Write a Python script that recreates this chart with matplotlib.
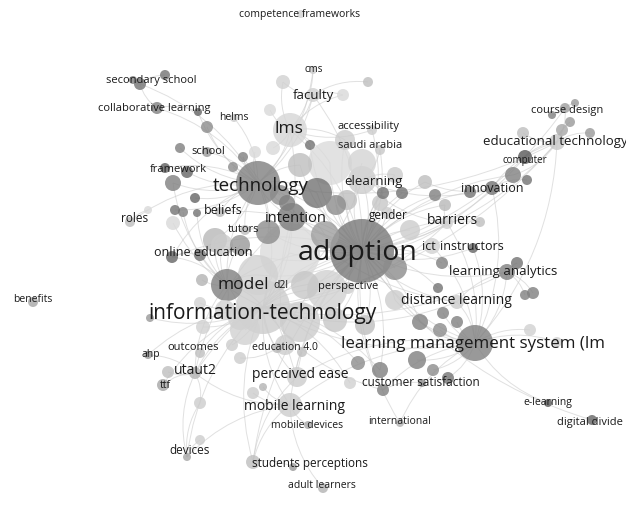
import matplotlib
matplotlib.use("Agg")
import matplotlib.pyplot as plt
from matplotlib.patches import Circle, PathPatch
from matplotlib.path import Path

# labelled items: text, label position, font size, node position, radius, grey
labels = ["competence frameworks", "cms", "secondary school", "faculty", "collaborative learning",
          "helms", "lms", "accessibility", "course design", "educational technology",
          "saudi arabia", "school", "computer", "framework", "elearning",
          "technology", "innovation", "beliefs", "roles", "intention",
          "gender", "barriers", "tutors", "ict", "instructors",
          "online education", "adoption", "learning analytics", "model", "d2l",
          "perspective", "benefits", "distance learning", "information-technology", "learning management system (lm",
          "outcomes", "education 4.0", "ahp", "utaut2", "perceived ease",
          "customer satisfaction", "ttf", "e-learning", "mobile learning", "international",
          "digital divide", "mobile devices", "devices", "students perceptions", "adult learners"]
label_x = [300, 314, 151, 313, 154, 234, 289, 368, 567, 555,
           370, 208, 525, 178, 373, 261, 492, 223, 135, 296,
           388, 452, 244, 429, 472, 203, 358, 503, 243, 281,
           348, 33, 456, 262, 473, 193, 285, 151, 195, 300,
           421, 165, 548, 294, 400, 590, 307, 190, 310, 322]
label_y = [14, 70, 80, 95, 108, 117, 129, 126, 111, 141,
           145, 152, 160, 169, 181, 186, 189, 210, 219, 219,
           215, 221, 229, 246, 247, 252, 253, 271, 285, 285,
           287, 300, 301, 314, 344, 347, 348, 355, 371, 375,
           383, 385, 403, 406, 422, 422, 425, 450, 464, 486]
label_fs = [7.5, 7, 8, 9.5, 8, 7.5, 12.5, 8, 8, 9.5,
            8, 8, 7, 8, 9.5, 13.5, 9, 9, 8.5, 10.5,
            8.5, 10, 8, 9, 9, 9, 20.5, 9.5, 12.5, 7.5,
            8, 7.5, 10, 15, 12.2, 8, 7.5, 7.5, 10, 10,
            8.5, 7.5, 7.5, 10, 7.5, 8, 7.5, 8.5, 8.5, 7.5]
node_x = [301, 313, 140, 313, 157, 234, 290, 372, 565, 557,
          380, 207, 525, 165, 362, 258, 492, 220, 130, 292,
          387, 447, 245, 432, 473, 172, 362, 507, 227, 281,
          348, 33, 457, 263, 475, 200, 277, 148, 195, 297,
          383, 163, 548, 290, 400, 592, 308, 187, 253, 323]
node_y = [14, 70, 84, 95, 108, 118, 130, 130, 108, 142,
          150, 152, 157, 168, 180, 183, 188, 212, 222, 217,
          213, 223, 230, 246, 248, 257, 251, 272, 285, 285,
          288, 302, 302, 307, 343, 353, 348, 355, 373, 377,
          390, 385, 403, 405, 423, 420, 425, 457, 462, 488]
node_r = [4, 4, 6, 7, 6, 4, 17, 5, 5, 8,
          5, 5, 7, 5, 14, 22, 7, 5, 5, 14,
          6, 6, 5, 8, 5, 6, 32, 8, 16, 5,
          6, 5, 7, 27, 18, 5, 5, 4, 6, 10,
          6, 6, 4, 12, 4, 5, 4, 4, 7, 5]
node_grey = [.82, .80, .45, .82, .50, .80, .84, .80, .62, .78,
             .78, .60, .35, .38, .80, .50, .45, .72, .75, .48,
             .80, .82, .75, .82, .40, .40, .47, .50, .50, .80,
             .80, .65, .80, .80, .50, .75, .72, .60, .70, .80,
             .50, .65, .35, .80, .70, .40, .65, .65, .75, .70]

# unlabelled items
blob_x = [165, 133, 198, 207, 180, 243, 233, 187, 173, 195, 197, 175, 183, 148, 173,
          283, 343, 368, 270, 310, 255, 273, 287, 317, 330, 362, 347, 380, 383, 402,
          425, 435, 445, 470, 513, 527, 523, 562, 590, 575, 552, 570, 480, 442, 517,
          438, 533, 525, 443, 457, 420, 440, 530, 557, 417, 433, 448, 380, 422, 350,
          358, 290, 327, 200, 202, 200, 150, 203, 232, 240, 168, 200, 200, 263, 253,
          302, 293, 222, 240, 395,
          258, 245, 300, 335, 215, 240, 268, 325, 336, 305, 395, 365, 285, 225, 410,
          345, 300, 395, 280]
blob_y = [75, 80, 112, 127, 148, 157, 167, 172, 183, 198, 213, 210, 212, 210, 223,
          82, 95, 82, 110, 145, 152, 148, 203, 193, 163, 163, 200, 203, 193, 193,
          182, 195, 205, 192, 175, 180, 133, 130, 133, 103, 115, 122, 222, 263, 263,
          288, 293, 295, 313, 322, 322, 330, 330, 342, 360, 370, 378, 370, 383, 383,
          363, 253, 290, 255, 280, 303, 318, 327, 345, 358, 372, 403, 440, 387, 393,
          352, 467, 245, 318, 268,
          275, 330, 322, 320, 240, 245, 232, 235, 205, 285, 300, 325, 345, 310, 230,
          140, 165, 175, 195]
blob_r = [5, 4, 4, 6, 5, 5, 5, 6, 8, 5, 4, 5, 5, 4, 7,
          7, 6, 5, 6, 5, 6, 7, 8, 15, 22, 14, 10, 8, 6, 6,
          7, 6, 6, 6, 8, 5, 6, 6, 5, 4, 4, 5, 5, 6, 6,
          5, 6, 5, 6, 6, 8, 7, 6, 5, 9, 6, 6, 8, 4, 6,
          7, 30, 20, 6, 6, 6, 4, 7, 6, 6, 6, 6, 5, 4, 6,
          5, 4, 11, 12, 12,
          20, 15, 20, 12, 12, 10, 12, 14, 10, 14, 10, 10, 10, 10, 10,
          10, 12, 8, 10]
blob_grey = [.45, .50, .40, .55, .50, .50, .55, .40, .50, .40, .45, .45, .50, .85, .85,
             .82, .85, .75, .85, .45, .85, .85, .50, .45, .86, .83, .75, .78, .45, .45,
             .75, .50, .72, .45, .50, .45, .75, .65, .60, .60, .50, .60, .75, .50, .45,
             .45, .50, .50, .50, .50, .50, .55, .82, .82, .50, .55, .45, .50, .55, .82,
             .55, .86, .82, .45, .70, .82, .60, .82, .80, .80, .75, .80, .80, .70, .80,
             .75, .60, .80, .82, .55,
             .82, .82, .80, .78, .72, .60, .55, .62, .55, .78, .80, .75, .80, .82, .80,
             .80, .75, .80, .55]
blob_links = ["secondary school", "secondary school", "collaborative learning|technology", "technology", "technology",
              "technology|adoption", "technology", "technology", "technology|model", "technology",
              "model", "technology", "model", "roles", "information-technology",
              "lms|faculty", "lms|faculty", "faculty", "lms", "lms|adoption",
              "technology", "lms", "adoption", "adoption|technology", "adoption|lms",
              "adoption", "adoption", "adoption", "adoption|elearning", "adoption",
              "adoption|innovation", "adoption", "adoption|barriers", "innovation|adoption", "educational technology|adoption",
              "innovation", "educational technology", "educational technology", "educational technology", "course design",
              "course design", "educational technology", "barriers|adoption", "adoption", "learning analytics",
              "adoption", "learning analytics", "learning analytics", "learning management system (lm", "learning management system (lm",
              "learning management system (lm|adoption", "learning management system (lm", "learning management system (lm", "learning management system (lm", "learning management system (lm",
              "learning management system (lm", "learning management system (lm", "information-technology|adoption", "customer satisfaction", "information-technology",
              "information-technology", "adoption|information-technology", "adoption|information-technology", "online education", "model",
              "information-technology", "information-technology", "information-technology", "information-technology", "education 4.0",
              "utaut2", "utaut2|devices", "devices", "mobile learning", "mobile learning",
              "perceived ease", "students perceptions", "adoption|model", "information-technology|model", "adoption",
              "adoption|model", "information-technology", "adoption|information-technology", "adoption", "technology|model",
              "model", "technology|adoption", "adoption|technology", "adoption", "information-technology|adoption",
              "adoption|learning management system (lm", "information-technology|adoption", "information-technology", "model", "adoption",
              "lms|adoption", "technology|adoption", "elearning|adoption", "technology"]

links = [("adoption", t) for t in [
    "information-technology", "technology", "model", "intention", "elearning", "lms",
    "learning management system (lm", "distance learning", "learning analytics", "barriers",
    "ict", "instructors", "innovation", "educational technology", "computer", "course design",
    "gender", "perceived ease", "mobile learning", "customer satisfaction", "faculty",
    "accessibility", "saudi arabia", "online education", "perspective", "d2l", "education 4.0",
    "utaut2", "tutors", "beliefs", "international", "students perceptions", "digital divide"]]
links += [("information-technology", t) for t in [
    "technology", "model", "learning management system (lm", "mobile learning", "utaut2",
    "outcomes", "ahp", "ttf", "perceived ease", "education 4.0", "lms", "elearning",
    "distance learning", "learning analytics", "intention", "students perceptions", "devices",
    "customer satisfaction", "educational technology", "barriers"]]
links += [("technology", t) for t in [
    "secondary school", "collaborative learning", "school", "framework", "helms", "beliefs",
    "roles", "lms", "faculty", "intention", "model", "cms", "tutors", "online education"]]
links += [("learning management system (lm", t) for t in [
    "distance learning", "learning analytics", "instructors", "ict", "customer satisfaction",
    "educational technology", "barriers", "innovation", "international", "perceived ease",
    "mobile learning", "e-learning"]]
links += [("secondary school", "collaborative learning"), ("utaut2", "devices"), ("utaut2", "ttf"),
          ("utaut2", "ahp"), ("utaut2", "mobile learning"), ("mobile learning", "students perceptions"),
          ("mobile learning", "mobile devices"), ("mobile learning", "adult learners"),
          ("mobile learning", "devices"), ("lms", "faculty"), ("lms", "cms"), ("lms", "accessibility"),
          ("educational technology", "course design"), ("educational technology", "computer"),
          ("educational technology", "innovation"), ("perceived ease", "students perceptions"),
          ("learning analytics", "distance learning"), ("elearning", "saudi arabia"),
          ("model", "online education"), ("intention", "perceived ease"),
          ("elearning", "innovation"), ("elearning", "barriers"), ("intention", "distance learning"),
          ("model", "utaut2"), ("intention", "utaut2"), ("technology", "educational technology")]


def arc(ax, p, q, bend=0.18):
    (x0, y0), (x1, y1) = p, q
    mx, my = (x0 + x1) / 2, (y0 + y1) / 2
    cx, cy = mx - (y1 - y0) * bend, my + (x1 - x0) * bend
    path = Path([(x0, y0), (cx, cy), (x1, y1)], [Path.MOVETO, Path.CURVE3, Path.CURVE3])
    ax.add_patch(PathPatch(path, fc="none", ec=(0.80, 0.80, 0.80), lw=0.7, alpha=0.6, zorder=1))


fig = plt.figure(figsize=(6.26, 5.27), dpi=100)
ax = fig.add_axes([0, 0, 1, 1])
ax.set_xlim(0, 626)
ax.set_ylim(527, 0)
ax.axis("off")

pos = {lab: (x, y) for lab, x, y in zip(labels, node_x, node_y)}

for a, b in links:
    arc(ax, pos[a], pos[b])
for x, y, ends in zip(blob_x, blob_y, blob_links):
    for e in ends.split("|"):
        arc(ax, (x, y), pos[e])

circles = [(r, x, y, g) for x, y, r, g in zip(node_x, node_y, node_r, node_grey)]
circles += [(r, x, y, g) for x, y, r, g in zip(blob_x, blob_y, blob_r, blob_grey)]
for r, x, y, g in sorted(circles, reverse=True):
    ax.add_patch(Circle((x, y), r, fc=(g, g, g), ec="none", alpha=0.8, zorder=2))

for lab, x, y, fs in zip(labels, label_x, label_y, label_fs):
    ax.text(x, y, lab, fontsize=fs, family="Open Sans", color=(0.1, 0.1, 0.1),
            ha="center", va="center", zorder=3)

fig.savefig("out.png", dpi=100, facecolor="white")
